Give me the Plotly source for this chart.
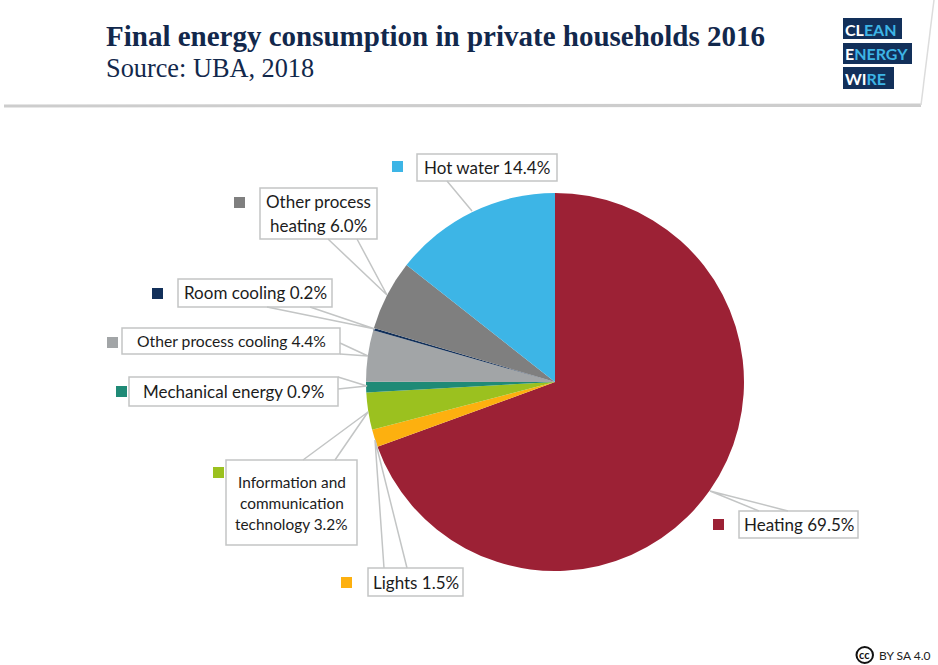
import plotly.graph_objects as go

W, H = 938, 665

categories = ["Heating", "Lights", "Information and communication technology", "Mechanical energy",
              "Other process cooling", "Room cooling", "Other process heating", "Hot water"]
values = [69.5, 1.5, 3.2, 0.9, 4.4, 0.2, 6.0, 14.4]
colors = ["#9c2135", "#fdb00f", "#9bc11f", "#1f8a76", "#a2a5a7", "#12305a", "#7f7f7f", "#3db5e6"]
label_lines = [["Heating {}"], ["Lights {}"], ["Information and", "communication", "technology {}"],
               ["Mechanical energy {}"], ["Other process cooling {}"], ["Room cooling {}"],
               ["Other process", "heating {}"], ["Hot water {}"]]
label_sizes = [17, 17, 15.4, 17, 15.7, 17, 17, 17]
line_gaps = [0, 0, 21, 0, 0, 0, 24, 0]
title_text = "Final energy consumption in private households 2016"
source_text = "Source: UBA, 2018"

# callout geometry in pixels: box (x0, y0, x1, y1), leader base a, leader base b, tip
boxes = [(739, 511, 858, 538), (368, 568, 463, 596), (226, 460, 357, 545), (129, 377, 338, 406),
         (122, 328, 340, 354), (178, 279, 332, 307), (260, 188, 377, 239), (417, 154, 557, 181)]
leaders = [((759, 511), (788, 511), (710, 491)), ((384, 568), (407, 568), (375, 440)),
           ((303, 460), (335, 460), (368, 412)), ((338, 377), (338, 389), (367, 386)),
           ((340, 343), (340, 354), (368, 356)), ((267, 307), (310, 307), (375, 329)),
           ((328, 239), (357, 239), (387, 295)), ((447, 181), (447, 181), (472, 211))]
squares = [(713, 519), (341, 577), (213, 467), (116, 386), (107, 337), (152, 288), (234, 197), (392, 161)]

def px(x): return x / W
def py(y): return 1 - y / H
def path(points, close=True):
    s = "M " + " L ".join(f"{px(x):.5f} {py(y):.5f}" for x, y in points)
    return s + (" Z" if close else "")

fig = go.Figure(go.Pie(
    labels=categories, values=values, sort=False, direction="clockwise", rotation=0,
    marker=dict(colors=colors, line=dict(width=0)), textinfo="none", hoverinfo="label+percent",
    domain=dict(x=[px(366), px(744)], y=[py(571), py(193)]), showlegend=False,
))

shapes, annotations = [], []
BORDER = "#c3c5c5"
LBL = dict(family="Lato, 'Open Sans', sans-serif", color="#1c1c1c")

# header band
shapes.append(dict(type="path", xref="paper", yref="paper", line=dict(width=0), fillcolor="#cdcdcd",
                   path=path([(4, 104.5), (921, 103.5), (921, 107), (4, 107.5)])))
shapes.append(dict(type="line", xref="paper", yref="paper", x0=px(934), y0=py(0), x1=px(921), y1=py(105),
                   line=dict(color="#dcdcdc", width=1.5)))

# logo
for (x1, y0, y1) in [(902, 18, 39), (912, 43, 64), (894, 67, 89)]:
    shapes.append(dict(type="rect", xref="paper", yref="paper", x0=px(843), x1=px(x1), y0=py(y1), y1=py(y0),
                       fillcolor="#12305a", line=dict(width=0)))
for white, blue, cy in [("CL", "EAN", 29), ("E", "NERGY", 53.5), ("WI", "RE", 78)]:
    annotations.append(dict(x=px(843), y=py(cy), xref="paper", yref="paper", xanchor="left", yanchor="middle",
                            showarrow=False,
                            text=f"<b><span style='color:#ffffff'>{white}</span><span style='color:#3db5e6'>{blue}</span></b>",
                            font=dict(family="Lato, sans-serif", size=16)))

# titles
annotations.append(dict(x=px(104), y=py(36), xref="paper", yref="paper", xanchor="left", yanchor="middle",
                        showarrow=False, text=f"<b>{title_text}</b>",
                        font=dict(family="Liberation Serif, serif", size=29, color="#12284c")))
annotations.append(dict(x=px(104), y=py(68), xref="paper", yref="paper", xanchor="left", yanchor="middle",
                        showarrow=False, text=source_text,
                        font=dict(family="Liberation Serif, serif", size=26.3, color="#12284c")))

# callouts
for i, v in enumerate(values):
    a, b, tip = leaders[i]
    x0, y0, x1, y1 = boxes[i]
    shapes.append(dict(type="rect", xref="paper", yref="paper", x0=px(x0), x1=px(x1), y0=py(y1), y1=py(y0),
                       fillcolor="white", line=dict(color=BORDER, width=1.5)))
    shapes.append(dict(type="path", xref="paper", yref="paper", path=path([a, tip, b], close=False),
                       line=dict(color=BORDER, width=1.5), fillcolor="rgba(0,0,0,0)"))
    sx, sy = squares[i]
    shapes.append(dict(type="rect", xref="paper", yref="paper", x0=px(sx), x1=px(sx + 11), y0=py(sy + 11), y1=py(sy),
                       fillcolor=colors[i], line=dict(width=0)))
    lines = label_lines[i]
    mid = (y0 + y1) / 2
    for j, line in enumerate(lines):
        cy = mid + (j - (len(lines) - 1) / 2) * line_gaps[i]
        annotations.append(dict(x=px((x0 + x1) / 2), y=py(cy), xref="paper", yref="paper",
                                xanchor="center", yanchor="middle", showarrow=False, align="center",
                                text=line.format(f"{v:.1f}%"),
                                font=dict(size=label_sizes[i], **LBL)))

# licence mark
shapes.append(dict(type="circle", xref="paper", yref="paper", x0=px(856.5), x1=px(873), y0=py(663), y1=py(647),
                   fillcolor="white", line=dict(color="#111111", width=2)))
annotations.append(dict(x=px(864.7), y=py(654.5), xref="paper", yref="paper", xanchor="center", yanchor="middle",
                        showarrow=False, text="<b>cc</b>", font=dict(family="Lato, sans-serif", size=11, color="#111111")))
annotations.append(dict(x=px(877), y=py(655), xref="paper", yref="paper", xanchor="left", yanchor="middle",
                        showarrow=False, text="BY SA 4.0", font=dict(family="Lato, sans-serif", size=12, color="#222222")))

fig.update_layout(width=W, height=H, margin=dict(l=0, r=0, t=0, b=0), autosize=False,
                  paper_bgcolor="white", plot_bgcolor="white", shapes=shapes, annotations=annotations)
fig.write_html("out.html", post_script="document.body.style.margin='0';", config=dict(displayModeBar=False))
